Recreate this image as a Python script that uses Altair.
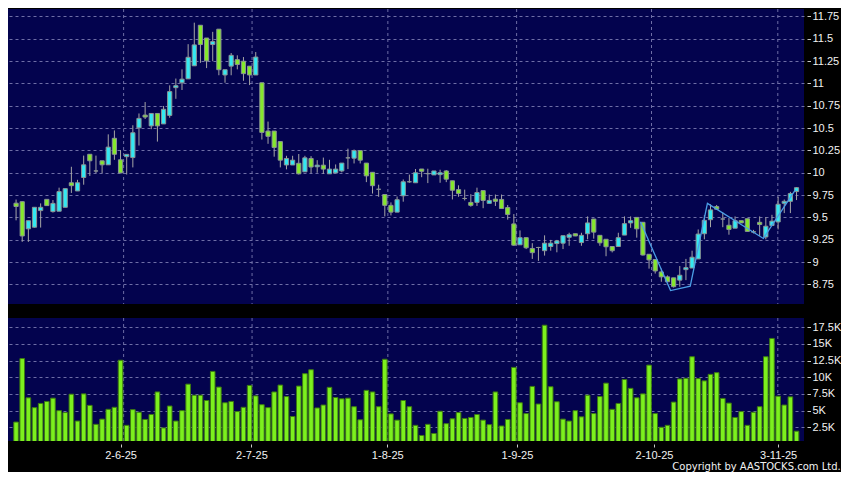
import altair as alt
import numpy as np
import pandas as pd

# ---------------- data ----------------
opens = [9.659, 9.676, 9.372, 9.39, 9.576, 9.702, 9.565, 9.569, 9.613, 9.888,
         9.796, 9.947, 10.207, 10.02, 10.134, 10.089, 10.386, 10.145, 10.18, 10.17,
         10.503, 10.646, 10.525, 10.664, 10.547, 10.642, 10.953, 11.008, 11.052, 11.198,
         11.652, 11.509, 11.436, 11.608, 11.095, 11.194, 11.267, 11.249, 11.194, 11.095,
         11.008, 10.467, 10.467, 10.349, 10.087, 10.087, 10.106, 10.01, 10.16, 10.067,
         10.085, 9.988, 9.998, 10.02, 10.167, 10.163, 10.248, 10.108, 10.005, 9.815,
         9.756, 9.635, 9.559, 9.742, 9.899, 9.888, 10.042, 9.99, 9.976, 9.979,
         10.02, 9.91, 9.811, 9.712, 9.668, 9.668, 9.8, 9.657, 9.705, 9.701,
         9.61, 9.427, 9.193, 9.273, 9.152, 9.163, 9.127, 9.174, 9.207, 9.211,
         9.277, 9.317, 9.218, 9.317, 9.482, 9.299, 9.255, 9.174, 9.174, 9.302,
         9.438, 9.5, 9.445, 9.087, 9.028, 8.889, 8.834, 8.823, 8.797, 8.915,
         8.933, 9.035, 9.317, 9.474, 9.621, 9.482, 9.412, 9.379, 9.463, 9.485,
         9.34, 9.445, 9.281, 9.409, 9.449, 9.658, 9.68, 9.789]
highs = [9.70, 9.68, 9.463, 9.613, 9.657, 9.702, 9.694, 9.833, 9.822, 10.067,
         9.921, 10.192, 10.207, 10.192, 10.134, 10.43, 10.474, 10.254, 10.206, 10.532,
         10.664, 10.792, 10.664, 10.664, 10.748, 10.979, 11.055, 11.158, 11.44, 11.681,
         11.652, 11.509, 11.578, 11.608, 11.154, 11.341, 11.315, 11.296, 11.194, 11.352,
         11.008, 10.573, 10.467, 10.349, 10.19, 10.19, 10.21, 10.19, 10.186, 10.141,
         10.17, 10.145, 10.093, 10.108, 10.27, 10.26, 10.248, 10.108, 10.005, 9.866,
         9.756, 9.668, 9.734, 9.925, 9.98, 10.042, 10.042, 10.045, 10.02, 10.034,
         10.03, 9.91, 9.859, 9.811, 9.76, 9.833, 9.8, 9.756, 9.756, 9.756,
         9.639, 9.537, 9.354, 9.273, 9.211, 9.17, 9.299, 9.248, 9.248, 9.295,
         9.328, 9.317, 9.328, 9.511, 9.482, 9.299, 9.255, 9.174, 9.328, 9.511,
         9.511, 9.5, 9.449, 9.087, 9.028, 8.926, 8.85, 8.823, 8.955, 9.035,
         9.127, 9.365, 9.526, 9.646, 9.639, 9.555, 9.493, 9.511, 9.463, 9.485,
         9.36, 9.511, 9.504, 9.529, 9.731, 9.70, 9.786, 9.84]
lows = [9.467, 9.226, 9.226, 9.386, 9.386, 9.632, 9.554, 9.569, 9.613, 9.774,
        9.796, 9.866, 9.965, 9.994, 9.994, 10.089, 10.145, 9.998, 9.98, 10.06,
        10.305, 10.602, 10.488, 10.349, 10.547, 10.616, 10.828, 10.927, 11.052, 11.198,
        11.231, 11.172, 11.249, 11.092, 11.008, 11.092, 11.158, 11.03, 10.982, 11.095,
        10.372, 10.324, 10.18, 10.06, 10.038, 10.087, 9.98, 10.01, 9.994, 10.0,
        9.988, 9.988, 9.998, 10.005, 10.041, 10.104, 10.104, 9.895, 9.767, 9.73,
        9.511, 9.522, 9.559, 9.676, 9.888, 9.888, 9.95, 9.884, 9.976, 9.888,
        9.895, 9.701, 9.731, 9.69, 9.62, 9.628, 9.603, 9.657, 9.628, 9.599,
        9.475, 9.182, 9.193, 9.145, 9.035, 9.013, 9.072, 9.127, 9.109, 9.145,
        9.182, 9.29, 9.182, 9.255, 9.262, 9.182, 9.065, 9.108, 9.174, 9.302,
        9.383, 9.273, 9.072, 8.926, 8.871, 8.779, 8.779, 8.714, 8.724, 8.797,
        8.933, 9.035, 9.255, 9.39, 9.592, 9.39, 9.306, 9.379, 9.438, 9.343,
        9.32, 9.291, 9.255, 9.409, 9.365, 9.548, 9.548, 9.694]
closes = [9.622, 9.292, 9.463, 9.613, 9.613, 9.632, 9.657, 9.789, 9.822, 9.855,
          9.888, 10.089, 10.134, 10.02, 10.089, 10.287, 10.207, 9.998, 10.206, 10.448,
          10.609, 10.624, 10.664, 10.525, 10.711, 10.909, 10.975, 11.048, 11.293, 11.432,
          11.436, 11.253, 11.469, 11.154, 11.154, 11.315, 11.212, 11.11, 11.095, 11.296,
          10.452, 10.408, 10.283, 10.141, 10.16, 10.141, 9.988, 10.167, 10.064, 10.085,
          10.041, 10.041, 10.041, 10.108, 10.167, 10.248, 10.141, 9.965, 9.855, 9.815,
          9.635, 9.559, 9.698, 9.899, 9.899, 10.0, 10.016, 9.99, 10.02, 10.0,
          9.928, 9.804, 9.767, 9.712, 9.635, 9.778, 9.69, 9.69, 9.68, 9.599,
          9.533, 9.189, 9.273, 9.16, 9.105, 9.163, 9.211, 9.211, 9.237, 9.295,
          9.306, 9.292, 9.299, 9.438, 9.335, 9.215, 9.171, 9.127, 9.273, 9.43,
          9.463, 9.372, 9.079, 9.024, 8.9, 8.834, 8.779, 8.724, 8.852, 8.937,
          9.054, 9.313, 9.467, 9.584, 9.592, 9.482, 9.365, 9.463, 9.438, 9.343,
          9.335, 9.42, 9.401, 9.458, 9.647, 9.68, 9.767, 9.833]
volumes_k = [3.28, 12.79, 6.91, 5.44, 6.07, 6.37, 6.86, 4.99, 4.70, 7.45,
             3.43, 7.50, 5.78, 2.94, 3.72, 5.19, 5.49, 12.54, 2.79, 5.14,
             4.75, 3.67, 4.41, 7.79, 2.40, 5.68, 3.43, 4.99, 8.96, 7.30,
             7.30, 6.51, 10.87, 8.52, 6.17, 6.37, 4.85, 5.49, 8.77, 7.20,
             5.88, 5.44, 7.79, 8.82, 7.10, 4.11, 8.67, 10.53, 11.12, 5.39,
             5.83, 8.48, 6.96, 6.76, 6.86, 5.58, 3.62, 8.03, 7.79, 5.58,
             12.69, 4.50, 3.57, 6.51, 5.58, 2.79, 1.27, 2.94, 1.57, 4.90,
             3.04, 3.77, 4.70, 3.82, 3.97, 4.41, 3.57, 2.89, 7.79, 2.69,
             3.67, 11.47, 6.17, 4.55, 8.62, 5.98, 17.79, 8.57, 6.32, 3.72,
             3.43, 4.99, 4.06, 7.30, 4.55, 7.10, 9.11, 5.19, 6.07, 9.65,
             8.33, 6.91, 7.50, 11.81, 4.55, 2.50, 2.79, 6.27, 9.74, 9.84,
             13.07, 9.79, 9.45, 10.43, 10.68, 6.82, 6.12, 3.97, 4.85, 2.79,
             4.75, 5.58, 13.07, 15.81, 7.15, 5.83, 7.05, 1.91]

x_labels = ["2-6-25", "2-7-25", "1-8-25", "1-9-25", "2-10-25", "3-11-25"]
x_label_pos = [17.0, 38.3, 60.4, 81.5, 103.8, 124.0]
x_grid_pos = [17.5, 38.4, 60.5, 81.45, 103.4, 123.95]
price_ticks = [8.75, 9.0, 9.25, 9.5, 9.75, 10.0, 10.25, 10.5, 10.75, 11.0, 11.25, 11.5, 11.75]
volume_ticks = [2.5, 5.0, 7.5, 10.0, 12.5, 15.0, 17.5]
zig_x = [101.6, 106.5, 109.7, 112.5, 121.6, 126.8]
zig_y = [9.45, 8.68, 8.73, 9.657, 9.264, 9.807]
copyright_text = "Copyright by AASTOCKS.com Ltd."

# ---------------- styling ----------------
NAVY = "#03034e"
GRID = "#6e6ea6"
CYAN = "#33e8f2"
GREEN = "#85e82c"
DOJI = "#b4b4b4"
BODY_STROKE = "#8a9494"
WICK = "#a6a6a6"
VOL_FILL = "#7cf01e"
VOL_STROKE = "#3d7a12"
ZIG = "#4b9ee6"
LABEL = "#f2f2f2"
FONT = "Liberation Sans, Arial, sans-serif"

W = 796
H1 = 295
H2 = 123

n = len(opens)
df = pd.DataFrame({"i": list(range(n)), "open": opens, "high": highs, "low": lows,
                   "close": closes, "vol": volumes_k})
df["dir"] = np.where(df["close"] > df["open"], "up",
                     np.where(df["close"] < df["open"], "down", "flat"))
grid_df = pd.DataFrame({"g": x_grid_pos})
zig_df = pd.DataFrame({"i": zig_x, "p": zig_y})

xscale = alt.Scale(domain=[-0.5, 127.4], nice=False, zero=False)
pscale = alt.Scale(domain=[8.53, 11.834], nice=False, zero=False)
vscale = alt.Scale(domain=[0.44, 18.87], nice=False, zero=False)

price_axis = alt.Axis(orient="right", values=price_ticks, format=".2~f", title=None,
                      grid=True, gridDash=[3, 3], gridColor=GRID, gridWidth=1,
                      domain=False, ticks=True, tickColor="#c8c8c8", tickSize=3.5,
                      offset=3, labelPadding=1.5, labelColor=LABEL, labelFont=FONT,
                      labelFontSize=11)
vol_axis = alt.Axis(orient="right", values=volume_ticks, labelExpr="datum.value + 'K'",
                    title=None, grid=True, gridDash=[3, 3], gridColor=GRID, gridWidth=1,
                    domain=False, ticks=True, tickColor="#c8c8c8", tickSize=3.5,
                    offset=3, labelPadding=1.5, labelColor=LABEL, labelFont=FONT,
                    labelFontSize=11)
labels_js = "[" + ",".join("'" + s + "'" for s in x_labels) + "]"
pos_js = "[" + ",".join(str(p) for p in x_label_pos) + "]"
x_axis = alt.Axis(orient="bottom", values=x_label_pos,
                  labelExpr=labels_js + "[indexof(" + pos_js + ", datum.value)]",
                  title=None, grid=False, domain=False, ticks=True, tickColor="#c8c8c8",
                  tickSize=3, offset=3, labelPadding=2, labelColor=LABEL, labelFont=FONT,
                  labelFontSize=11, labelFlush=False, labelOverlap=False)

# ---------------- price panel ----------------
px = alt.X("i:Q", scale=xscale, axis=None)
vgrid_p = alt.Chart(grid_df).mark_rule(color=GRID, strokeDash=[3, 3], strokeWidth=1).encode(
    x=alt.X("g:Q", scale=xscale, axis=None))
wicks = alt.Chart(df).mark_rule(color=WICK, strokeWidth=1).encode(
    x=px, y=alt.Y("low:Q", scale=pscale, axis=price_axis), y2="high:Q")
bodies = alt.Chart(df).mark_bar(size=4.2, stroke=BODY_STROKE, strokeWidth=1).encode(
    x=px, y=alt.Y("open:Q", scale=pscale, axis=price_axis), y2="close:Q",
    color=alt.Color("dir:N", scale=alt.Scale(domain=["up", "down", "flat"],
                                             range=[CYAN, GREEN, DOJI]), legend=None))
zig = alt.Chart(zig_df).mark_line(color=ZIG, strokeWidth=1.3).encode(
    x=alt.X("i:Q", scale=xscale, axis=None), y=alt.Y("p:Q", scale=pscale, axis=price_axis))
price = alt.layer(vgrid_p, wicks, bodies, zig).properties(width=W, height=H1)

# ---------------- volume panel ----------------
vx = alt.X("i:Q", scale=xscale, axis=x_axis)
vgrid_v = alt.Chart(grid_df).mark_rule(color=GRID, strokeDash=[3, 3], strokeWidth=1).encode(
    x=alt.X("g:Q", scale=xscale, axis=x_axis))
vbars = alt.Chart(df).mark_bar(size=4.6, color=VOL_FILL, stroke=VOL_STROKE, strokeWidth=1,
                               clip=True).encode(
    x=vx, y=alt.Y("vol:Q", scale=vscale, axis=vol_axis))
volume = alt.layer(vgrid_v, vbars).properties(width=W, height=H2)

chart = alt.vconcat(price, volume, spacing=12).properties(
    padding=0,
    title=alt.TitleParams(text=copyright_text, orient="bottom", anchor="end",
                          font="DejaVu Sans", fontSize=10, fontWeight="normal",
                          color=LABEL, offset=2),
).configure(background="black").configure_view(fill=NAVY, stroke=None)

chart.save("out.html", embed_options={"renderer": "svg", "actions": False})
